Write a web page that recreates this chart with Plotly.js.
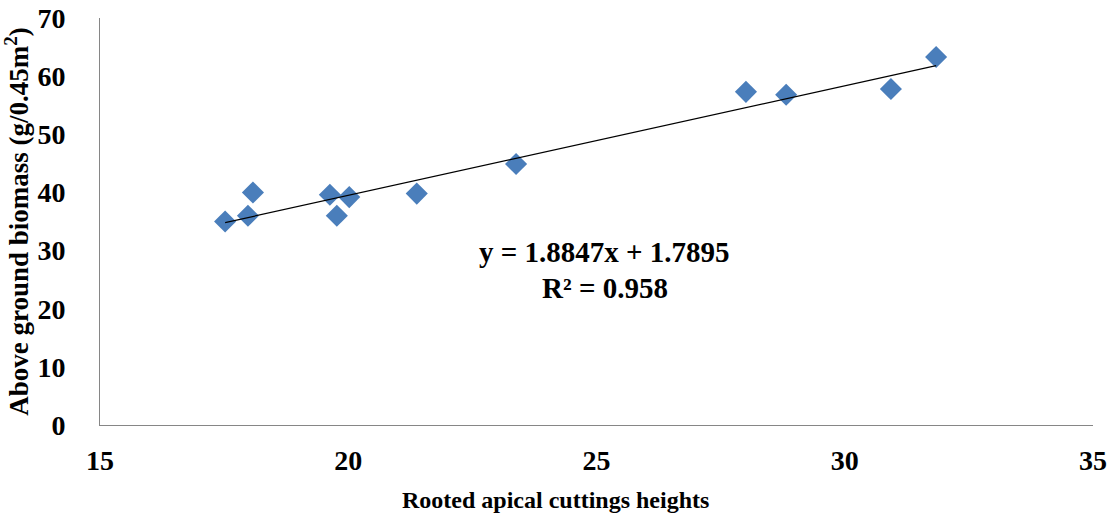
<!DOCTYPE html>
<html>
<head>
<meta charset="utf-8">
<script src="https://cdn.plot.ly/plotly-3.0.1.min.js"></script>
<style>html,body{margin:0;padding:0;background:#fff;}#chart{width:1112px;height:519px;}</style>
</head>
<body>
<div id="chart"></div>
<script>
const heights = [17.52, 17.98, 18.08, 19.63, 19.77, 20.02, 21.38, 23.38, 28.01, 28.82, 30.93, 31.84];
const biomass = [35.0, 36.0, 40.0, 39.6, 36.0, 39.2, 39.8, 44.9, 57.3, 56.8, 57.8, 63.3];
const slope = 1.8847;
const intercept = 1.7895;
const rSquared = 0.958;
const xTicks = [15, 20, 25, 30, 35];
const yTicks = [0, 10, 20, 30, 40, 50, 60, 70];

const xMin = Math.min(...heights), xMax = Math.max(...heights);
const font = {family: '"Liberation Serif", "Times New Roman", serif', color: '#000'};

const traces = [
  {
    x: heights, y: biomass, type: 'scatter', mode: 'markers',
    marker: {symbol: 'diamond', size: 17, color: '#4a7ebb'},
    showlegend: false, hoverinfo: 'x+y'
  },
  {
    x: [xMin, xMax], y: [slope * xMin + intercept, slope * xMax + intercept],
    type: 'scatter', mode: 'lines', line: {color: '#000', width: 1.2},
    showlegend: false, hoverinfo: 'skip'
  }
];

const layout = {
  width: 1112, height: 519,
  margin: {l: 100, r: 19, t: 18, b: 94},
  paper_bgcolor: '#fff', plot_bgcolor: '#fff',
  font: font,
  xaxis: {
    range: [15, 35], tickvals: xTicks, ticktext: xTicks.map(String),
    showgrid: false, zeroline: false, showline: true, linecolor: '#868686', linewidth: 1,
    ticks: '', ticklen: 0, ticklabelstandoff: 10,
    tickfont: {family: font.family, size: 28, color: '#000', weight: 'bold'}
  },
  yaxis: {
    range: [0, 70], tickvals: yTicks, ticktext: yTicks.map(String),
    showgrid: false, zeroline: false, showline: true, linecolor: '#868686', linewidth: 1,
    ticks: '', ticklen: 0, ticklabelstandoff: 28,
    tickfont: {family: font.family, size: 28, color: '#000', weight: 'bold'},
    title: {text: '<b>Above ground biomass (g/0.45m<sup>2</sup>)</b>', font: {family: font.family, size: 27, color: '#000'}, standoff: 0}
  },
  annotations: [
    {
      x: 25.17, y: 29.8, xref: 'x', yref: 'y', showarrow: false,
      text: '<b>y = ' + slope + 'x + ' + intercept + '</b>',
      font: {family: font.family, size: 29, color: '#000'}
    },
    {
      x: 25.17, y: 23.6, xref: 'x', yref: 'y', showarrow: false,
      text: '<b>R² = ' + rSquared + '</b>',
      font: {family: font.family, size: 29, color: '#000'}
    },
    {
      x: 0.459, y: -0.184, xref: 'paper', yref: 'paper', xanchor: 'center', yanchor: 'middle', showarrow: false,
      text: '<b>Rooted apical cuttings heights</b>',
      font: {family: font.family, size: 24, color: '#000'}
    }
  ]
};

Plotly.newPlot('chart', traces, layout, {displayModeBar: false, staticPlot: true});
</script>
</body>
</html>
